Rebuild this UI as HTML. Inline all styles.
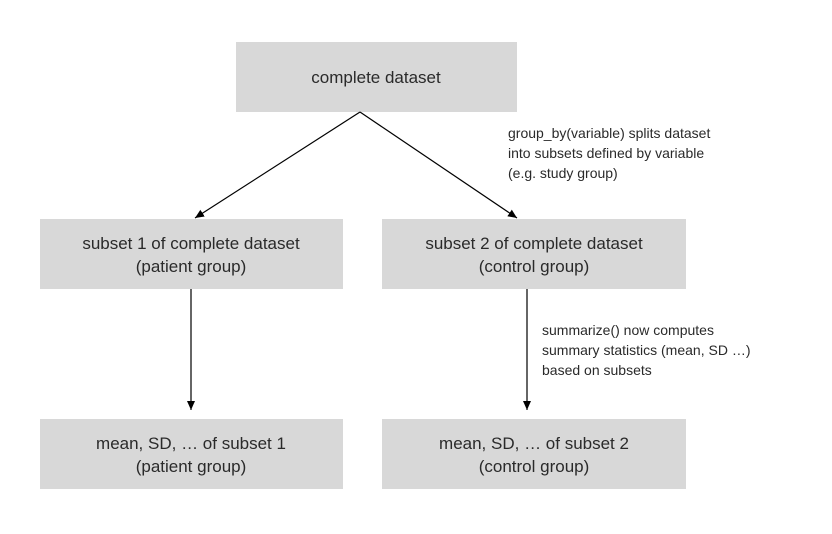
<!DOCTYPE html>
<html><head><meta charset="utf-8"><style>
html,body{margin:0;padding:0;background:#fff;}
</style></head><body>
<svg width="832" height="529" xmlns="http://www.w3.org/2000/svg" font-family="Liberation Sans, sans-serif" fill="#222">
<defs>
<marker id="a" markerWidth="10" markerHeight="10" refX="9" refY="5" orient="auto" markerUnits="userSpaceOnUse">
<path d="M0,1 L9,5 L0,9 z" fill="#000"/></marker>
</defs>
<g fill="#d8d8d8">
<rect x="236" y="42" width="281" height="70"/>
<rect x="40" y="219" width="303" height="70"/>
<rect x="382" y="219" width="304" height="70"/>
<rect x="40" y="419" width="303" height="70"/>
<rect x="382" y="419" width="304" height="70"/>
</g>
<g stroke="#000" stroke-width="1.2" fill="none" marker-end="url(#a)">
<line x1="360" y1="112" x2="195" y2="218"/>
<line x1="360" y1="112" x2="517" y2="218"/>
<line x1="191" y1="289" x2="191" y2="410"/>
<line x1="527" y1="289" x2="527" y2="410"/>
</g>
<g font-size="17" text-anchor="middle" fill="#2a2a2a">
<text x="376" y="83">complete dataset</text>
<text x="191" y="249">subset 1 of complete dataset</text>
<text x="191" y="272">(patient group)</text>
<text x="534" y="249">subset 2 of complete dataset</text>
<text x="534" y="272">(control group)</text>
<text x="191" y="449">mean, SD, … of subset 1</text>
<text x="191" y="472">(patient group)</text>
<text x="534" y="449">mean, SD, … of subset 2</text>
<text x="534" y="472">(control group)</text>
</g>
<g font-size="14" fill="#2a2a2a">
<text x="508" y="138">group_by(variable) splits dataset</text>
<text x="508" y="158">into subsets defined by variable</text>
<text x="508" y="178">(e.g. study group)</text>
<text x="542" y="335">summarize() now computes</text>
<text x="542" y="355">summary statistics (mean, SD …)</text>
<text x="542" y="375">based on subsets</text>
</g>
</svg>
</body></html>
